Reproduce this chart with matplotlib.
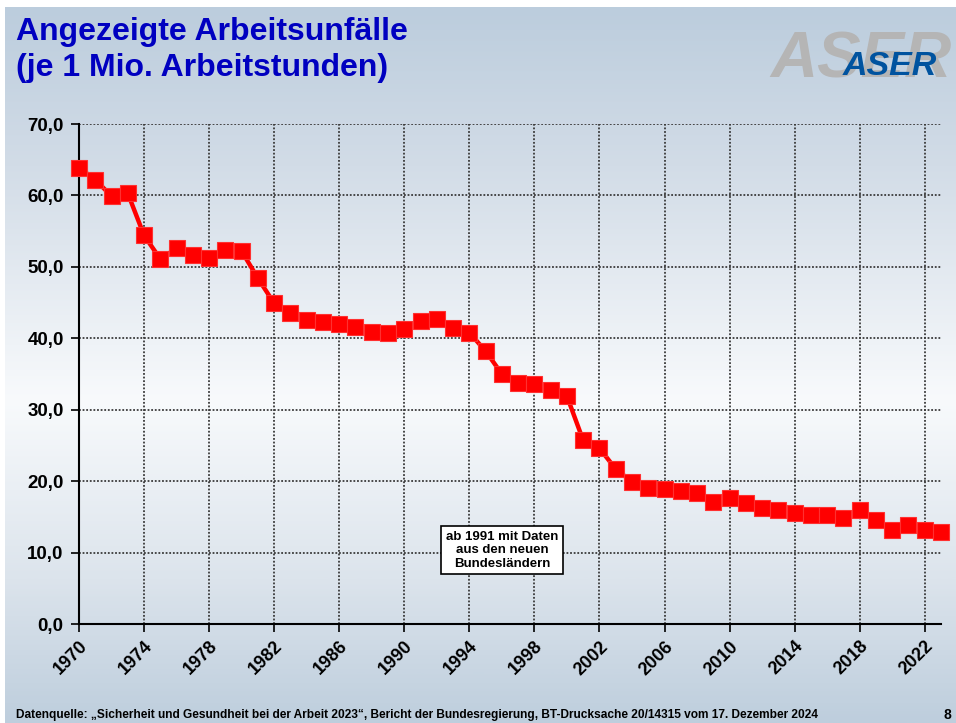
import numpy as np
import matplotlib
matplotlib.use("Agg")
import matplotlib.pyplot as plt
from matplotlib.ticker import FuncFormatter
from matplotlib.colors import LinearSegmentedColormap

plt.rcParams['font.family'] = ['Liberation Sans', 'DejaVu Sans']

years = list(range(1970, 2024))
unfaelle = [63.9, 62.2, 59.9, 60.3, 54.4, 51.1, 52.6, 51.6, 51.3, 52.4,
            52.2, 48.4, 44.9, 43.6, 42.6, 42.3, 42.0, 41.6, 40.9, 40.7,
            41.3, 42.4, 42.7, 41.5, 40.8, 38.2, 35.0, 33.8, 33.6, 32.7,
            31.9, 25.7, 24.6, 21.7, 19.9, 19.1, 18.9, 18.6, 18.3, 17.1,
            17.7, 16.9, 16.2, 15.9, 15.6, 15.2, 15.2, 14.9, 16.0, 14.6,
            13.1, 13.8, 13.1, 12.9]
xticks = list(range(1970, 2023, 4))
yticks = [0, 10, 20, 30, 40, 50, 60, 70]

title = "Angezeigte Arbeitsunfälle\n(je 1 Mio. Arbeitstunden)"
note = "ab 1991 mit Daten\naus den neuen\nBundesländern"
source = ("Datenquelle: \u201eSicherheit und Gesundheit bei der Arbeit 2023\u201c, Bericht der "
          "Bundesregierung, BT-Drucksache 20/14315 vom 17. Dezember 2024")

W, H = 956, 723
fig = plt.figure(figsize=(W / 100, H / 100), dpi=100)
fig.patch.set_facecolor('white')

# background gradient (slide)
bg = fig.add_axes([5 / W, 0, 1 - 5 / W, 1 - 7 / H])
bg.set_axis_off()
cmap = LinearSegmentedColormap.from_list(
    'bg', [(0.0, '#bccddd'), (0.22, '#d2dce7'), (0.55, '#f8fafc'),
           (0.8, '#dce4ec'), (1.0, '#becedd')])
grad = np.linspace(0, 1, 400).reshape(-1, 1)
bg.imshow(grad, aspect='auto', cmap=cmap, extent=[0, 1, 1, 0])
bg.set_xlim(0, 1)
bg.set_ylim(1, 0)

ax = fig.add_axes([79 / W, (H - 624) / H, 862 / W, 500 / H])
ax.set_facecolor('none')
ax.plot(years, unfaelle, color='#ff0000', lw=3.2, marker='s', markersize=11,
        markerfacecolor='#ff0000', markeredgecolor='#ff3030', markeredgewidth=0.8,
        zorder=5, clip_on=False)

ax.set_xlim(1970, 2023)
ax.set_ylim(0, 70)
ax.set_xticks(xticks)
ax.set_yticks(yticks)
ax.yaxis.set_major_formatter(FuncFormatter(lambda v, p: f"{v:.1f}".replace('.', ',')))
ax.grid(True, color='#3a3a3a', linestyle=(0, (1, 1)), linewidth=1.3)
for s in ['top', 'right']:
    ax.spines[s].set_visible(False)
for s in ['left', 'bottom']:
    ax.spines[s].set_color('black')
    ax.spines[s].set_linewidth(1.5)
ax.tick_params(axis='both', direction='out', length=6, width=1.2, color='black')
for lab in ax.get_yticklabels():
    lab.set_fontsize(13.5)
    lab.set_fontweight('bold')
ax.tick_params(axis='y', pad=5)
ax.tick_params(axis='x', pad=4)
for lab in ax.get_xticklabels():
    lab.set_fontsize(13)
    lab.set_fontweight('bold')
    lab.set_rotation(45)
    lab.set_ha('right')
    lab.set_va('top')
    lab.set_rotation_mode('anchor')

ax.text(1996.0, 10.3, note, ha='center', va='center', fontsize=9.5, fontweight='bold',
        linespacing=1.15, zorder=6,
        bbox=dict(boxstyle='square,pad=0.35', facecolor='white', edgecolor='black', linewidth=1.2))

fig.text(16 / W, 1 - 17 / H, title, ha='left', va='top', fontsize=23, fontweight='bold',
         color='#0000c0', linespacing=1.28)

fig.text(770 / W, 1 - 78 / H, "ASER", ha='left', va='baseline', fontsize=47,
         fontweight='bold', style='italic', color='#b5b5b5')
fig.text(843 / W, 1 - 75 / H, "ASER", ha='left', va='baseline', fontsize=24.5,
         fontweight='bold', style='italic', color='#00539f')

fig.text(16 / W, 1 - 718 / H, source, ha='left', va='baseline', fontsize=8.6,
         fontweight='bold', color='black')
fig.text(944 / W, 1 - 719 / H, "8", ha='left', va='baseline', fontsize=10,
         fontweight='bold', color='black')

fig.savefig('out.png', dpi=100)
